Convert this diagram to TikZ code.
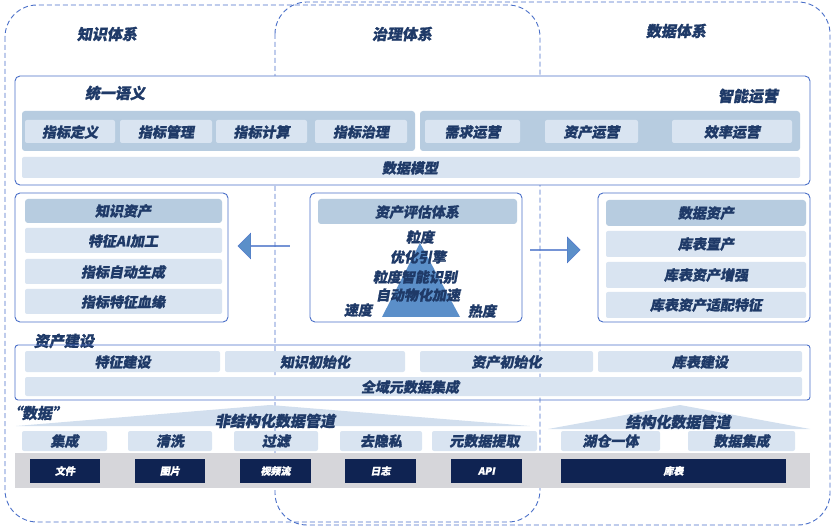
\documentclass[tikz,border=0pt]{standalone}
\usepackage{fontspec}
\setmainfont{Noto Sans CJK SC}[FakeSlant=0.18,BoldFeatures={FakeBold=1.2}]
\usetikzlibrary{shapes.arrows}
\definecolor{navy}{HTML}{1F3A68}
\definecolor{frame}{HTML}{4A6FC8}
\definecolor{band}{HTML}{B7CCE0}
\definecolor{light}{HTML}{D9E4F1}
\definecolor{dark}{HTML}{0F2352}
\definecolor{greystrip}{HTML}{D6D6DA}
\definecolor{arrowc}{HTML}{5B8FC9}
\begin{document}
\begin{tikzpicture}[x=1pt,y=-1pt,
  txt/.style={text=navy,font=\bfseries\fontsize{14}{15}\selectfont,inner sep=0pt},
  ttl/.style={text=navy,font=\bfseries\fontsize{15}{16}\selectfont,inner sep=0pt},
  box/.style={draw=frame,line width=0.9pt,rounded corners=5pt,fill=white},
  bandbox/.style={fill=band,rounded corners=3pt},
  item/.style={fill=light,rounded corners=2pt},
  darkbox/.style={fill=dark},
  dframe/.style={draw=frame,dashed,line width=0.9pt,rounded corners=32pt,dash pattern=on 5pt off 3pt}]
\useasboundingbox (0,0) rectangle (832,526);
% dashed frames
\draw[dframe] (5,5) rectangle (540,522);
\draw[dframe] (275,2) rectangle (830,525);
\node[ttl] (t1) at (107,34) {知识体系};
\node[ttl] (t2) at (402,34) {治理体系};
\node[ttl] (t3) at (676,31) {数据体系};
% top box
\draw[box] (15,76) rectangle (810,185);
\node[ttl] (l1) at (115,93) {统一语义};
\node[ttl] (l2) at (748,96) {智能运营};
\fill[bandbox] (22,111) rectangle (415,151);
\fill[bandbox] (420,111) rectangle (800,151);
\foreach \a/\b/\t [count=\i] in {25/115/指标定义,120/212/指标管理,216/307/指标计算,315/407/指标治理,425/520/需求运营,545/638/资产运营,672/792/效率运营}{
  \fill[item] (\a,120) rectangle (\b,143);
  \node[txt] (s\i) at ({(\a+\b)/2},132) {\t};
}
\fill[item] (22,157) rectangle (800,178);
\node[txt] (dm) at (410,168) {数据模型};
% left box
\draw[box] (15,193) rectangle (228,322);
\fill[bandbox] (25,199) rectangle (222,223);
\node[txt] (k0) at (123,211) {知识资产};
\foreach \y/\t [count=\i] in {228/特征AI加工,259/指标自动生成,289/指标特征血缘}{
  \fill[item] (25,\y) rectangle (222,\y+25);
  \node[txt] (k\i) at (123,\y+13) {\t};
}
% middle box
\draw[box] (310,193) rectangle (522,322);
\fill[bandbox] (318,199) rectangle (517,224);
\node[txt] (m0) at (417,212) {资产评估体系};
\fill[arrowc] (420,243) -- (460,317) -- (382,317) -- cycle;
\node[txt] (p1) at (420,237) {粒度};
\node[txt] (p2) at (418,257) {优化引擎};
\node[txt] (p3) at (415,277) {粒度智能识别};
\node[txt] (p4) at (418,295) {自动物化加速};
\node[txt] (p5) at (358,310) {速度};
\node[txt] (p6) at (482,311) {热度};
% right box
\draw[box] (598,193) rectangle (810,322);
\fill[bandbox] (606,200) rectangle (806,226);
\node[txt] (r0) at (706,213) {数据资产};
\foreach \y/\t [count=\i] in {231/库表置产,262/库表资产增强,292/库表资产适配特征}{
  \fill[item] (606,\y) rectangle (806,\y+26);
  \node[txt] (r\i) at (706,\y+13) {\t};
}
% arrows
\node[single arrow,shape border rotate=180,fill=arrowc,draw=frame,minimum width=26pt,single arrow head extend=6pt,minimum height=52pt,inner sep=0pt] (al) at (264,246) {};
\node[single arrow,fill=arrowc,draw=frame,minimum width=26pt,single arrow head extend=6pt,minimum height=50pt,inner sep=0pt] (ar) at (555,250) {};
% asset construction
\node[ttl] (ac) at (64,341) {资产建设};
\draw[box,rounded corners=3pt,fill=none] (15,345) rectangle (810,400);
\foreach \a/\b/\t [count=\i] in {25/220/特征建设,225/405/知识初始化,420/593/资产初始化,598/802/库表建设}{
  \fill[item] (\a,351) rectangle (\b,372);
  \node[txt] (c\i) at ({(\a+\b)/2},362) {\t};
}
\fill[item] (25,377) rectangle (802,396);
\node[txt] (ci) at (410,387) {全域元数据集成};
% data layer
\fill[light!80!band] (16,426) -- (270,405) -- (530,426) -- cycle;
\fill[light!80!band] (548,429) -- (680,405) -- (810,429) -- cycle;
\node[ttl] (dl) at (37,413) {“数据”};
\node[ttl] (u1) at (275,421) {非结构化数据管道};
\node[ttl] (u2) at (678,422) {结构化数据管道};
\foreach \a/\b/\t [count=\i] in {22/107/集成,128/212/清洗,234/318/过滤,340/422/去隐私,432/537/元数据提取,561/660/湖仓一体,688/795/数据集成}{
  \fill[item] (\a,431) rectangle (\b,451);
  \node[txt] (q\i) at ({(\a+\b)/2},441) {\t};
}
\fill[greystrip] (15,453) rectangle (810,488);
\foreach \a/\b/\t [count=\i] in {30/100/文件,135/205/图片,240/311/视频流,345/416/日志,451/522/API,561/786/库表}{
  \fill[darkbox] (\a,459) rectangle (\b,483);
  \node[text=white,font=\bfseries\fontsize{10}{11}\selectfont] (d\i) at ({(\a+\b)/2},471) {\t};
}
\end{tikzpicture}
\end{document}
